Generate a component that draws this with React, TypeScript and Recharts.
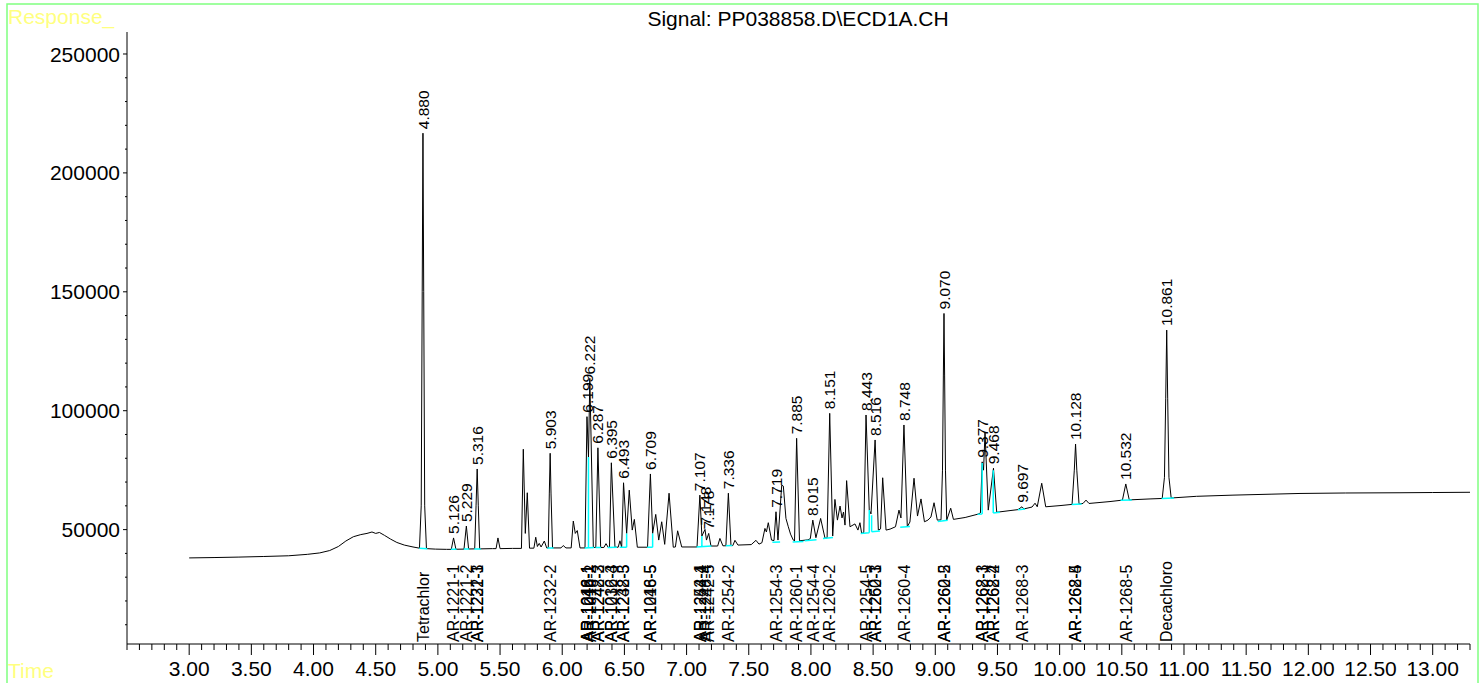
import { LineChart, Line, XAxis, YAxis, ReferenceDot } from "recharts";

const FONT = "'Liberation Sans', Arial, Helvetica, sans-serif";
const W = 1482;
const H = 683;

const X_MIN = 2.5;
const X_MAX = 13.3;
const Y_MIN = 1900;
const Y_MAX = 259250;

const xMajorLabels = ["3.00", "3.50", "4.00", "4.50", "5.00", "5.50", "6.00", "6.50", "7.00", "7.50", "8.00", "8.50", "9.00", "9.50", "10.00", "10.50", "11.00", "11.50", "12.00", "12.50", "13.00"];
const yMajorLabels = ["50000", "100000", "150000", "200000", "250000"];

// minor ticks every 0.1 min / 10000 counts
const xTicks: number[] = [];
for (let i = 0; i <= 108; i++) xTicks.push(Math.round((X_MIN + i * 0.1) * 10) / 10);
const yTicks: number[] = [];
for (let v = 10000; v <= 250000; v += 10000) yTicks.push(v);

// detector trace, [time (min), response]
const trace: [number, number][] = [
  [3.0, 38100], [3.2, 38250], [3.4, 38450], [3.6, 38700], [3.8, 39000], [3.95, 39600], [4.05, 40200], [4.13, 41200],
  [4.2, 42900], [4.26, 45200], [4.32, 47000], [4.38, 47900], [4.43, 48400], [4.47, 49000], [4.5, 48400], [4.53, 48800],
  [4.57, 47600], [4.62, 46000], [4.67, 44600], [4.73, 43500], [4.8, 42700], [4.852, 42200],
  [4.866, 60000], [4.874, 150000], [4.88, 216700], [4.886, 150000], [4.894, 60000], [4.908, 42000],
  [4.98, 41800], [5.07, 41700], [5.108, 41700], [5.126, 46500], [5.145, 41750], [5.21, 41800], [5.229, 51500],
  [5.247, 41850], [5.296, 41900], [5.307, 60000], [5.316, 75500], [5.325, 60000], [5.336, 41900], [5.44, 42000],
  [5.468, 42000], [5.483, 46500], [5.5, 42000], [5.6, 42100], [5.672, 42100], [5.687, 83800], [5.703, 48400],
  [5.719, 65500], [5.737, 42200], [5.772, 42200], [5.787, 46800], [5.8, 42900], [5.815, 44200], [5.83, 42700],
  [5.856, 45200], [5.875, 42300], [5.888, 42300], [5.896, 65000], [5.903, 82100], [5.91, 65000], [5.922, 42300],
  [5.99, 42300], [6.008, 43300], [6.03, 42300], [6.072, 42300], [6.089, 53600], [6.105, 48400], [6.121, 49600],
  [6.143, 42300], [6.183, 42300], [6.199, 97500], [6.211, 80500], [6.222, 113600], [6.25, 42500], [6.27, 42500],
  [6.287, 84400], [6.309, 42500], [6.335, 42500], [6.352, 44100], [6.37, 42500], [6.38, 42500], [6.395, 78100],
  [6.424, 42600], [6.45, 42600], [6.464, 45300], [6.478, 42600], [6.493, 69700], [6.518, 48400], [6.539, 66600],
  [6.563, 49800], [6.58, 54300], [6.604, 42600], [6.686, 42600], [6.709, 73400], [6.727, 48400], [6.752, 56400],
  [6.776, 45600], [6.8, 53300], [6.824, 43800], [6.859, 65300], [6.893, 42600], [6.91, 42700], [6.928, 49500],
  [6.961, 42700], [7.084, 42700], [7.107, 64500], [7.123, 47300], [7.148, 50100], [7.16, 45600], [7.178, 48400],
  [7.196, 43100], [7.25, 43100], [7.268, 46300], [7.292, 43200], [7.316, 43200], [7.336, 65300], [7.357, 43300],
  [7.372, 43300], [7.389, 45500], [7.413, 43500], [7.52, 43700], [7.558, 45500], [7.582, 43900], [7.606, 44500],
  [7.63, 50500], [7.642, 49000], [7.657, 52900], [7.683, 45600], [7.703, 45400], [7.719, 57500], [7.735, 45600],
  [7.765, 68700], [7.778, 68300], [7.799, 54700], [7.818, 51200], [7.836, 48100], [7.858, 45600], [7.868, 45200],
  [7.885, 88400], [7.908, 45300], [7.976, 45700], [7.995, 46200], [8.015, 54000], [8.04, 46600], [8.078, 54700],
  [8.113, 46400], [8.13, 46500], [8.151, 98900], [8.175, 47300], [8.193, 62700], [8.213, 54000], [8.234, 59900],
  [8.25, 54900], [8.262, 57400], [8.274, 51900], [8.287, 70600], [8.314, 51200], [8.354, 52400], [8.378, 49800],
  [8.394, 52900], [8.408, 48400], [8.425, 48800], [8.443, 98200], [8.469, 58200], [8.483, 56600], [8.516, 87700],
  [8.542, 49800], [8.56, 50300], [8.577, 71800], [8.604, 49800], [8.636, 50200], [8.68, 51200], [8.708, 58200],
  [8.724, 54900], [8.748, 94000], [8.775, 51200], [8.796, 53200], [8.829, 71600], [8.857, 55700], [8.885, 62900],
  [8.913, 53300], [8.941, 54000], [8.965, 55300], [8.99, 61300], [9.016, 54000], [9.046, 54100], [9.058, 75000],
  [9.065, 115000], [9.07, 140900], [9.075, 115000], [9.082, 75000], [9.092, 54000], [9.124, 59000], [9.146, 54300],
  [9.24, 55100], [9.343, 56500], [9.363, 57000], [9.377, 78500], [9.388, 75000], [9.4, 90700], [9.426, 58200],
  [9.468, 75800], [9.494, 57300], [9.601, 58000], [9.665, 58400], [9.697, 59600], [9.713, 58700], [9.778, 59500],
  [9.802, 61100], [9.82, 59600], [9.856, 69500], [9.888, 59600], [10.003, 60100], [10.1, 60600], [10.118, 75000],
  [10.128, 86000], [10.138, 75000], [10.156, 60800], [10.188, 61000], [10.212, 62400], [10.236, 61000],
  [10.405, 61800], [10.505, 62400], [10.532, 69200], [10.56, 62500], [10.727, 62900], [10.825, 63100],
  [10.843, 72000], [10.853, 105000], [10.861, 133900], [10.869, 105000], [10.879, 72000], [10.897, 63300],
  [11.1, 64000], [11.394, 64500], [11.7, 64900], [11.933, 65200], [12.3, 65400], [12.737, 65500], [13.0, 65600],
  [13.3, 65700],
];

// integration baselines and drop lines
const cyanSegments: [number, number][][] = [
  [[4.85, 42200], [4.915, 42000]],
  [[5.105, 41700], [5.15, 41750]],
  [[5.208, 41800], [5.252, 41850]],
  [[5.292, 41900], [5.345, 41900]],
  [[5.88, 42300], [5.93, 42300]],
  [[6.18, 42300], [6.255, 42500]], [[6.211, 42350], [6.211, 80500]],
  [[6.268, 42500], [6.312, 42500]],
  [[6.365, 42500], [6.44, 42600]],
  [[6.462, 42600], [6.518, 42600]], [[6.518, 42600], [6.518, 48400]],
  [[6.683, 42600], [6.727, 42600]], [[6.727, 42600], [6.727, 48400]],
  [[7.08, 42700], [7.2, 43100]], [[7.123, 42900], [7.123, 47300]],
  [[7.315, 43200], [7.368, 43300]],
  [[7.69, 44700], [7.752, 44800]],
  [[7.853, 44800], [7.94, 45000]],
  [[7.95, 45300], [8.045, 45700]],
  [[8.097, 46300], [8.177, 46700]],
  [[8.4, 48400], [8.469, 48700]], [[8.469, 48700], [8.469, 58200]],
  [[8.488, 49100], [8.555, 49400]], [[8.488, 49100], [8.488, 56000]],
  [[8.718, 51000], [8.796, 51300]],
  [[9.02, 53400], [9.1, 53900]],
  [[9.34, 56500], [9.377, 56600]], [[9.377, 56600], [9.377, 78000]],
  [[9.466, 57000], [9.52, 57300]], [[9.466, 57000], [9.466, 75000]],
  [[9.665, 58400], [9.722, 58700]],
  [[10.097, 60600], [10.177, 60800]],
  [[10.49, 62300], [10.58, 62500]],
  [[10.82, 63100], [10.92, 63300]],
];

const peakLabels = ["4.880", "5.126", "5.229", "5.316", "5.903", "6.199", "6.222", "6.287", "6.395", "6.493", "6.709", "7.107", "7.148", "7.178", "7.336", "7.719", "7.885", "8.015", "8.151", "8.443", "8.516", "8.748", "9.070", "9.377", "9.468", "9.697", "10.128", "10.532", "10.861"];
const peakHeights = [216700, 46500, 51500, 75500, 82100, 97500, 113600, 84400, 78100, 69700, 73400, 64500, 50100, 48400, 65300, 57500, 88400, 54000, 98900, 98200, 87700, 94000, 140900, 78500, 75800, 59600, 86000, 69200, 133900];

const compoundNames = ["Tetrachlor", "AR-1221-1", "AR-1221-2", "AR-1221-3", "AR-1232-1", "AR-1232-2", "AR-1016-1", "AR-1242-1", "AR-1248-1", "AR-1016-2", "AR-1242-3", "AR-1248-2", "AR-1232-4", "AR-1016-3", "AR-1232-5", "AR-1248-3", "AR-1016-5", "AR-1248-5", "AR-1254-1", "AR-1242-4", "AR-1248-4", "AR-1242-5", "AR-1254-2", "AR-1254-3", "AR-1260-1", "AR-1254-4", "AR-1260-2", "AR-1254-5", "AR-1260-3", "AR-1262-1", "AR-1260-4", "AR-1260-5", "AR-1262-2", "AR-1268-1", "AR-1262-3", "AR-1268-2", "AR-1262-4", "AR-1268-3", "AR-1268-4", "AR-1262-5", "AR-1268-5", "Decachloro"];
const compoundTimes = [4.88, 5.126, 5.229, 5.316, 5.316, 5.903, 6.199, 6.199, 6.199, 6.222, 6.287, 6.287, 6.395, 6.395, 6.493, 6.493, 6.709, 6.709, 7.107, 7.107, 7.148, 7.178, 7.336, 7.719, 7.885, 8.015, 8.151, 8.443, 8.516, 8.516, 8.748, 9.07, 9.07, 9.377, 9.377, 9.468, 9.468, 9.697, 10.128, 10.128, 10.532, 10.861];

const traceData = trace.map(([t, v]) => ({ t, v }));
const cyanData: { t: number; v: number | null }[] = [];
cyanSegments.forEach((seg) => {
  seg.forEach(([t, v]) => cyanData.push({ t, v }));
  cyanData.push({ t: seg[seg.length - 1][0], v: null });
});

function XTick(props: any) {
  const { x, y, payload } = props;
  const label = xMajorLabels.find((l) => Math.abs(Number(l) - payload.value) < 1e-6);
  return (
    <g>
      <line x1={x} x2={x} y1={y} y2={y + (label ? 11 : 6)} stroke="#000" strokeWidth={1} />
      {label && (
        <text x={x} y={y + 32} textAnchor="middle" fontSize={21} fontFamily={FONT} fill="#000">
          {label}
        </text>
      )}
    </g>
  );
}

function YTick(props: any) {
  const { x, y, payload } = props;
  const label = yMajorLabels.find((l) => Number(l) === payload.value);
  return (
    <g>
      <line x1={x - (label ? 4 : 2)} x2={x} y1={y} y2={y} stroke="#000" strokeWidth={1} />
      {label && (
        <text x={x - 7} y={y} dy="0.36em" textAnchor="end" fontSize={21} fontFamily={FONT} fill="#000">
          {label}
        </text>
      )}
    </g>
  );
}

function vText(cx: number, cy: number, text: string, size: number) {
  return (
    <text
      x={cx}
      y={cy}
      dy="0.36em"
      transform={`rotate(-90 ${cx} ${cy})`}
      fontSize={size}
      fontFamily={FONT}
      fill="#000"
    >
      {text}
    </text>
  );
}

export default function App() {
  return (
    <div style={{ position: "absolute", left: 0, top: 0, width: W, height: H, background: "#fff" }}>
      <LineChart width={W} height={H} margin={{ top: 32, right: 12, bottom: 0, left: 0 }}>
        <XAxis
          dataKey="t"
          type="number"
          domain={[X_MIN, X_MAX]}
          allowDataOverflow
          ticks={xTicks}
          interval={0}
          height={39}
          tickSize={0}
          tickMargin={0}
          tickLine={false}
          axisLine={{ stroke: "#000" }}
          tick={<XTick />}
        />
        <YAxis
          type="number"
          domain={[Y_MIN, Y_MAX]}
          allowDataOverflow
          ticks={yTicks}
          interval={0}
          width={127}
          tickSize={0}
          tickMargin={0}
          tickLine={false}
          axisLine={{ stroke: "#000" }}
          tick={<YTick />}
        />
        <Line
          data={traceData}
          dataKey="v"
          type="linear"
          stroke="#000"
          strokeWidth={1}
          dot={false}
          isAnimationActive={false}
        />
        <Line
          data={cyanData}
          dataKey="v"
          type="linear"
          stroke="#00FFFF"
          strokeWidth={1.5}
          dot={false}
          connectNulls={false}
          isAnimationActive={false}
        />
        {peakLabels.map((label, i) => (
          <ReferenceDot
            key={"p" + label}
            x={Number(label)}
            y={peakHeights[i]}
            r={0}
            ifOverflow="visible"
            shape={(p: any) => vText(p.cx, p.cy - 4, label, 15.5)}
          />
        ))}
        {compoundNames.map((name, i) => (
          <ReferenceDot
            key={"c" + i}
            x={compoundTimes[i]}
            y={Y_MIN}
            r={0}
            ifOverflow="visible"
            shape={(p: any) => vText(p.cx, p.cy - 2, name, 16)}
          />
        ))}
      </LineChart>
      <svg width={W} height={H} style={{ position: "absolute", left: 0, top: 0, pointerEvents: "none" }}>
        <rect x={7} y={4} width={1471} height={700} fill="none" stroke="#80FF80" strokeWidth={1.5} />
        <text x={8} y={24} fontSize={21} fontFamily={FONT} fill="#FFFF80">
          Response_
        </text>
        <text x={8} y={678} fontSize={21} fontFamily={FONT} fill="#FFFF80">
          Time
        </text>
        <text x={798} y={26} textAnchor="middle" fontSize={21} fontFamily={FONT} fill="#000">
          {"Signal: PP038858.D\\ECD1A.CH"}
        </text>
      </svg>
    </div>
  );
}
